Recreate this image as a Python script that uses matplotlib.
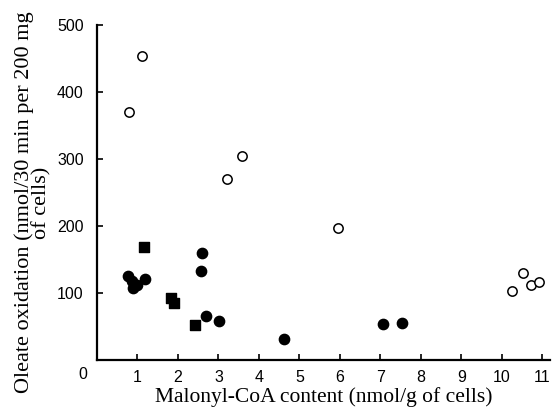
import matplotlib
matplotlib.use("Agg")
import matplotlib.pyplot as plt

# Open circles
open_x = [0.79, 1.11, 3.2, 3.58, 5.95, 10.25, 10.52, 10.72, 10.91]
open_y = [370, 454, 270, 304, 197, 103, 130, 112, 116]

# Filled circles
fcirc_x = [0.77, 0.86, 0.90, 1.00, 1.18, 2.59, 2.57, 2.69, 3.01, 4.62, 7.06, 7.53]
fcirc_y = [126, 118, 108, 112, 121, 160, 133, 66, 58, 31, 54, 55]

# Filled squares
sq_x = [1.16, 1.83, 1.90, 2.42]
sq_y = [169, 92, 85, 52]

xticks = [1, 2, 3, 4, 5, 6, 7, 8, 9, 10, 11]
yticks = [100, 200, 300, 400, 500]

fig = plt.figure(figsize=(5.56, 4.08), dpi=100)
ax = fig.add_axes([97/556, 48/408, (550-97)/556, (360-25)/408])

ax.scatter(open_x, open_y, s=45, facecolors='white', edgecolors='black', linewidths=1.1, zorder=3)
ax.scatter(fcirc_x, fcirc_y, s=55, c='black', marker='o', zorder=3)
ax.scatter(sq_x, sq_y, s=48, c='black', marker='s', zorder=3)

ax.set_xlim(0, 11.19)
ax.set_ylim(0, 500)
ax.set_xticks(xticks)
ax.set_yticks(yticks)
ax.set_xticklabels([str(t) for t in xticks], family='Liberation Sans', fontsize=11.5)
ax.set_yticklabels([str(t) for t in yticks], family='Liberation Sans', fontsize=11.5)
ax.tick_params(direction='in', length=4, width=1.2)
ax.tick_params(axis='x', pad=7)
ax.tick_params(axis='y', pad=9.5)
ax.annotate('0', xy=(0, 0), xytext=(-10.5, -10.5), textcoords='offset points',
            ha='center', va='center', family='Liberation Sans', fontsize=11.5)

for side in ['top', 'right']:
    ax.spines[side].set_visible(False)
for side in ['left', 'bottom']:
    ax.spines[side].set_linewidth(1.6)

ax.set_xlabel('Malonyl-CoA content (nmol/g of cells)', family='Liberation Serif', fontsize=15.5)
ax.xaxis.set_label_coords(0.5, -0.112)
ax.xaxis.label.set_va('center')
ax.set_ylabel('Oleate oxidation (nmol/30 min per 200 mg\nof cells)', family='Liberation Serif',
              fontsize=16, linespacing=0.85)
ax.yaxis.label.set_va('center')
ax.yaxis.set_label_coords(-0.141, 0.47)

fig.savefig('out.png', dpi=100)
